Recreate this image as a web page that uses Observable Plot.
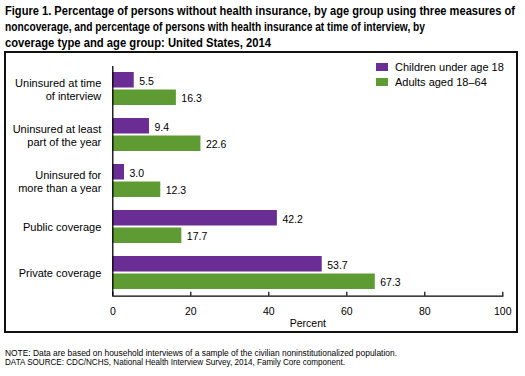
<!DOCTYPE html>
<html>
<head>
<meta charset="utf-8">
<script src="https://cdn.jsdelivr.net/npm/d3@7"></script>
<script src="https://cdn.jsdelivr.net/npm/@observablehq/plot@0.6"></script>
<style>
  html, body { margin: 0; padding: 0; background: #fff; }
  body { width: 525px; height: 376px; overflow: hidden; font-family: "Liberation Sans", Arial, sans-serif; color: #000; }
  #title { font-weight: bold; font-size: 13px; line-height: 16px; padding: 3px 0 0 5px; height: 51px; box-sizing: border-box; white-space: nowrap; }
  .ln { display: block; height: 16px; }
  .ln span { display: inline-block; transform-origin: 0 50%; white-space: nowrap; }
  #box { position: relative; margin-left: 4px; width: 510px; height: 278px; border: 2px solid #111; }
  #box svg { display: block; }
  #legend { position: absolute; left: 370px; top: 6px; font-size: 11px; }
  .lg { display: flex; align-items: center; height: 15.5px; }
  .sw { width: 12px; height: 8px; margin-right: 7px; }
  #note { font-size: 8.4px; padding-left: 5px; margin-top: 15.5px; white-space: nowrap; }
  #note .ln { height: 9.5px; line-height: 9.5px; }
</style>
</head>
<body>
<div id="title"></div>
<div id="box"><div id="legend"></div></div>
<div id="note"></div>
<script>
const titleLines = [
  "Figure 1. Percentage of persons without health insurance, by age group using three measures of",
  "noncoverage, and percentage of persons with health insurance at time of interview, by",
  "coverage type and age group: United States, 2014"
];
const noteLines = [
  "NOTE: Data are based on household interviews of a sample of the civilian noninstitutionalized population.",
  "DATA SOURCE: CDC/NCHS, National Health Interview Survey, 2014, Family Core component."
];
const categories = [
  "Uninsured at time\nof interview",
  "Uninsured at least\npart of the year",
  "Uninsured for\nmore than a year",
  "Public coverage",
  "Private coverage"
];
const children = [5.5, 9.4, 3.0, 42.2, 53.7];
const adults = [16.3, 22.6, 12.3, 17.7, 67.3];
const seriesNames = ["Children under age 18", "Adults aged 18\u201364"];
const seriesColors = ["#6a2d93", "#5e9b33"];
const xTicks = [0, 20, 40, 60, 80, 100];
const xLabel = "Percent";

// text blocks, each line fitted to the width it has in the reference
function fillLines(id, lines, widths) {
  const el = document.getElementById(id);
  lines.forEach((t, i) => {
    const d = document.createElement("div");
    d.className = "ln";
    const s = document.createElement("span");
    s.textContent = t;
    d.appendChild(s);
    el.appendChild(d);
    const w = s.getBoundingClientRect().width;
    if (w > 0) s.style.transform = `scaleX(${widths[i] / w})`;
  });
}
fillLines("title", titleLines, [510, 420, 266]);
fillLines("note", noteLines, [392, 340]);

document.getElementById("legend").innerHTML = seriesNames.map((s, i) =>
  `<div class="lg"><div class="sw" style="background:${seriesColors[i]}"></div><span>${s}</span></div>`).join("");

const rows = categories.map((c, i) => ({category: c, children: children[i], adults: adults[i]}));

const W = 510, H = 278, mT = 13, mB = 35.3, mL = 106.3, mR = 13.7;
const plotH = H - mT - mB;

const chart = Plot.plot({
  width: W, height: H,
  marginTop: mT, marginBottom: mB, marginLeft: mL, marginRight: mR,
  style: {fontFamily: '"Liberation Sans", Arial, sans-serif', fontSize: "11px", color: "#000", background: "#fff"},
  x: {domain: [0, 100]},
  y: {domain: categories, paddingInner: 0.283, paddingOuter: 0.138},
  marks: [
    Plot.barX(rows, {y: "category", x: "children", fill: seriesColors[0], insetBottom: 17.5}),
    Plot.barX(rows, {y: "category", x: "adults", fill: seriesColors[1], insetTop: 17.5}),
    Plot.text(rows, {y: "category", x: "children", text: d => d.children.toFixed(1), textAnchor: "start", dx: 5, dy: -7.5, fontSize: 10.5, fill: "#000"}),
    Plot.text(rows, {y: "category", x: "adults", text: d => d.adults.toFixed(1), textAnchor: "start", dx: 5, dy: 10, fontSize: 10.5, fill: "#000"}),
    Plot.ruleX([0], {stroke: "#000", strokeWidth: 1.3}),
    Plot.frame({anchor: "bottom", stroke: "#000", strokeWidth: 1.3}),
    Plot.ruleX(xTicks, {x: d => d, insetTop: plotH - 4, stroke: "#000", strokeWidth: 1.2}),
    Plot.axisX({ticks: xTicks, tickSize: 0, tickPadding: 11.5, fontSize: 10.5, label: xLabel, labelAnchor: "center", labelOffset: 30.5, labelArrow: "none"}),
    Plot.axisY({tickSize: 0, tickPadding: 11.5, fontSize: 11, lineHeight: 1.18, label: null})
  ]
});
document.getElementById("box").prepend(chart);
</script>
</body>
</html>
